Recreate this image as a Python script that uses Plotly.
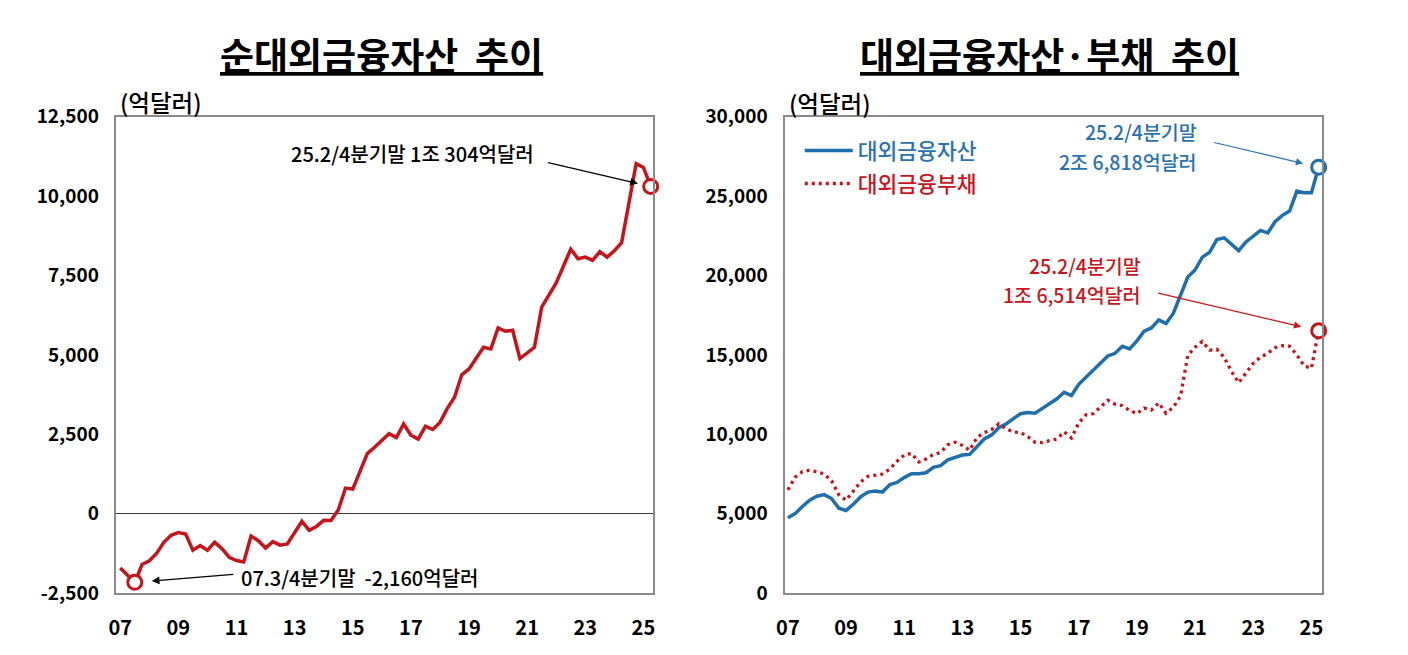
import plotly.graph_objects as go

# ---------------- data (quarterly, 2007 Q1 ... 2025 Q2) ----------------
quarters = [f"{y % 100:02d}.{q}/4" for y in range(2007, 2026) for q in range(1, 5)][:74]

net_assets = [-1710, -1950, -2160, -1600, -1480, -1250, -900, -680, -590, -640,
              -1150, -1000, -1150, -900, -1100, -1370, -1475, -1520, -700, -850,
              -1080, -880, -990, -950, -600, -238, -520, -400, -207, -210,
              118, 807, 776, 1350, 1892, 2094, 2300, 2519, 2397, 2823,
              2470, 2349, 2753, 2652, 2875, 3310, 3666, 4374, 4557, 4900,
              5239, 5187, 5847, 5744, 5775, 4883, 5050, 5239, 6504, 6900,
              7265, 7800, 8330, 8026, 8077, 7976, 8250, 8077, 8280, 8534,
              9780, 11020, 10900, 10304]

ext_assets = [4742, 5005, 5451, 5856, 6099, 6200, 5957, 5350, 5208, 5593,
              6059, 6363, 6424, 6363, 6829, 6970, 7275, 7518, 7518, 7579,
              7924, 8024, 8389, 8540, 8693, 8733, 9199, 9706, 9949, 10415,
              10650, 10950, 11300, 11368, 11327, 11631, 11935, 12237, 12644, 12443,
              13150, 13600, 13975, 14450, 14934, 15100, 15542, 15380, 15885, 16492,
              16697, 17203, 16980, 17609, 18700, 19900, 20345, 21155, 21459, 22267,
              22371, 21964, 21562, 22109, 22474, 22839, 22675, 23386, 23787, 24055,
              25309, 25207, 25207, 26818]

ext_liabs = [6505, 7300, 7650, 7740, 7640, 7500, 7072, 6200, 5850, 6400,
             7000, 7350, 7450, 7500, 7800, 8300, 8700, 8800, 8250, 8450,
             8733, 8850, 9350, 9502, 9300, 8997, 9800, 10100, 10300, 10657,
             10350, 10150, 10111, 9850, 9500, 9480, 9600, 9708, 10152, 9768,
             10717, 11227, 11300, 11700, 12140, 11897, 11800, 11500, 11300, 11650,
             11530, 11976, 11327, 11700, 12400, 14973, 15483, 15848, 15300, 15350,
             14850, 13963, 13252, 13860, 14468, 14850, 15100, 15450, 15581, 15550,
             15000, 14300, 14164, 16514]

tick_pos = [0, 8, 16, 24, 32, 40, 48, 56, 64, 72]
tick_text = ["07", "09", "11", "13", "15", "17", "19", "21", "23", "25"]

left_yticks = [-2500, 0, 2500, 5000, 7500, 10000, 12500]
left_ylabels = ["-2,500", "0", "2,500", "5,000", "7,500", "10,000", "12,500"]
right_yticks = [0, 5000, 10000, 15000, 20000, 25000, 30000]
right_ylabels = ["0", "5,000", "10,000", "15,000", "20,000", "25,000", "30,000"]

series_names = ["대외금융자산", "대외금융부채"]
titles = ["순대외금융자산 &nbsp;추이", "대외금융자산·부채 &nbsp;추이"]
unit = "(억달러)"

x = list(range(len(quarters)))
min_idx = net_assets.index(min(net_assets))
last = len(quarters) - 1

FONT = "Noto Sans CJK KR"
RED = "#C5141C"
BLUE = "#1F6FAD"
BLUE_TXT = "#2A72B0"
RED_TXT = "#C8161E"
BORDER = "#8A8A8A"

fig = go.Figure()

# left chart
fig.add_trace(go.Scatter(x=x, y=net_assets, mode="lines", line=dict(color=RED, width=3.5),
                         xaxis="x", yaxis="y", showlegend=False, hoverinfo="skip"))
fig.add_trace(go.Scatter(x=[x[min_idx], x[last]], y=[net_assets[min_idx], net_assets[last]],
                         mode="markers", cliponaxis=False,
                         marker=dict(size=14, color="white", line=dict(color=RED, width=3)),
                         xaxis="x", yaxis="y", showlegend=False, hoverinfo="skip"))

# right chart
fig.add_trace(go.Scatter(x=x, y=ext_assets, mode="lines", name=f"<span style='color:{BLUE_TXT}'>{series_names[0]}</span>",
                         line=dict(color=BLUE, width=3.5), legendgroup="a",
                         xaxis="x2", yaxis="y2", hoverinfo="skip"))
fig.add_trace(go.Scatter(x=x, y=ext_liabs, mode="lines", name=f"<span style='color:{RED_TXT}'>{series_names[1]}</span>",
                         line=dict(color=RED, width=3.3, dash="3px,4px"), legendgroup="b",
                         xaxis="x2", yaxis="y2", hoverinfo="skip"))
fig.add_trace(go.Scatter(x=[x[last]], y=[ext_assets[last]], mode="markers", cliponaxis=False,
                         marker=dict(size=14, color="white", line=dict(color=BLUE, width=3)),
                         xaxis="x2", yaxis="y2", showlegend=False, hoverinfo="skip"))
fig.add_trace(go.Scatter(x=[x[last]], y=[ext_liabs[last]], mode="markers", cliponaxis=False,
                         marker=dict(size=14, color="white", line=dict(color=RED, width=3)),
                         xaxis="x2", yaxis="y2", showlegend=False, hoverinfo="skip"))

W, H = 1408, 655
ydom = [1 - 603 / H, 1 - 106 / H]

axis_common = dict(showgrid=False, showline=True, mirror=True, linecolor=BORDER, linewidth=1.5,
                   ticks="", fixedrange=True)
xcommon = dict(axis_common, tickmode="array", tickvals=tick_pos, ticktext=tick_text,
               tickfont=dict(family=FONT, size=20, color="black", weight="bold"),
               ticklabelstandoff=16, zeroline=False)
ycommon = dict(axis_common, tickmode="array", tickfont=dict(family=FONT, size=19, color="black", weight="bold"),
               ticklabelstandoff=12)

fig.update_layout(
    width=W, height=H,
    margin=dict(l=0, r=0, t=0, b=0),
    paper_bgcolor="white", plot_bgcolor="white",
    font=dict(family=FONT, color="black"),
    xaxis=dict(xcommon, domain=[108.3 / W, 649 / W], range=[-0.52, 73.31], anchor="y"),
    yaxis=dict(ycommon, domain=ydom, range=[-2500, 12500], tickvals=left_yticks, ticktext=left_ylabels,
               anchor="x", zeroline=True, zerolinecolor="#3A3A3A", zerolinewidth=1),
    xaxis2=dict(xcommon, domain=[782.3 / W, 1323 / W], range=[-0.37, 73.41], anchor="y2"),
    yaxis2=dict(ycommon, domain=ydom, range=[0, 30000], tickvals=right_yticks, ticktext=right_ylabels,
                anchor="x2", zeroline=False),
    showlegend=True,
    legend=dict(x=797 / W, y=1 - 120 / H, xanchor="left", yanchor="top",
                font=dict(family=FONT, size=21.5, weight=500), itemwidth=48, tracegroupgap=2,
                bgcolor="rgba(0,0,0,0)"),
)

ann = []
# titles
ann.append(dict(text=f"<b><u>{titles[0]}</u></b>", xref="paper", yref="paper", x=375 / W, y=1 - 41 / H,
                showarrow=False, font=dict(family=FONT, size=37, color="black"), xanchor="center", yanchor="middle"))
ann.append(dict(text=f"<b><u>{titles[1]}</u></b>", xref="paper", yref="paper", x=1049 / W, y=1 - 41 / H,
                showarrow=False, font=dict(family=FONT, size=37, color="black"), xanchor="center", yanchor="middle"))
# units
ann.append(dict(text=unit, xref="paper", yref="paper", x=110 / W, y=1 - 91 / H, showarrow=False,
                font=dict(family=FONT, size=23.5, color="black", weight=500), xanchor="left", yanchor="middle"))
ann.append(dict(text=unit, xref="paper", yref="paper", x=784 / W, y=1 - 92 / H, showarrow=False,
                font=dict(family=FONT, size=23.5, color="black", weight=500), xanchor="left", yanchor="middle"))

# left annotations
ann.append(dict(text="25.2/4분기말 1조 304억달러", xref="x", yref="y", x=57.26, y=11325, showarrow=False,
                xanchor="right", yanchor="middle", font=dict(family=FONT, size=20, color="black", weight=500)))
ann.append(dict(text="", xref="x", yref="y", x=x[last], y=net_assets[last], ax=-104, ay=-24,
                showarrow=True, arrowhead=2, arrowsize=1.2, arrowwidth=1.3, arrowcolor="black", standoff=13))
ann.append(dict(text="07.3/4분기말 &nbsp;-2,160억달러", xref="x", yref="y", x=16.37, y=-2007, showarrow=False,
                xanchor="left", yanchor="middle", font=dict(family=FONT, size=20, color="black", weight=500)))
ann.append(dict(text="", xref="x", yref="y", x=x[min_idx], y=net_assets[min_idx], ax=100, ay=-8,
                showarrow=True, arrowhead=2, arrowsize=1.2, arrowwidth=1.3, arrowcolor="black", standoff=17))

# right annotations
ann.append(dict(text="25.2/4분기말", xref="x2", yref="y2", x=56.6, y=29052, showarrow=False,
                xanchor="right", yanchor="middle", font=dict(family=FONT, size=19.5, color=BLUE_TXT, weight=500)))
ann.append(dict(text="2조 6,818억달러", xref="x2", yref="y2", x=56.6, y=27144, showarrow=False,
                xanchor="right", yanchor="middle", font=dict(family=FONT, size=19.5, color=BLUE_TXT, weight=500)))
ann.append(dict(text="", xref="x2", yref="y2", x=x[last], y=ext_assets[last], ax=-106, ay=-25,
                showarrow=True, arrowhead=2, arrowsize=1.2, arrowwidth=1.2, arrowcolor=BLUE_TXT, standoff=16))
ann.append(dict(text="25.2/4분기말", xref="x2", yref="y2", x=48.8, y=20601, showarrow=False,
                xanchor="right", yanchor="middle", font=dict(family=FONT, size=19.5, color=RED_TXT, weight=500)))
ann.append(dict(text="1조 6,514억달러", xref="x2", yref="y2", x=48.8, y=18790, showarrow=False,
                xanchor="right", yanchor="middle", font=dict(family=FONT, size=19.5, color=RED_TXT, weight=500)))
ann.append(dict(text="", xref="x2", yref="y2", x=x[last], y=ext_liabs[last], ax=-162, ay=-38,
                showarrow=True, arrowhead=2, arrowsize=1.2, arrowwidth=1.2, arrowcolor=RED_TXT, standoff=18))

fig.update_layout(annotations=ann)
fig.write_html("out.html", config={"displayModeBar": False},
               post_script="document.body.style.margin='0';document.body.style.overflow='hidden';")
